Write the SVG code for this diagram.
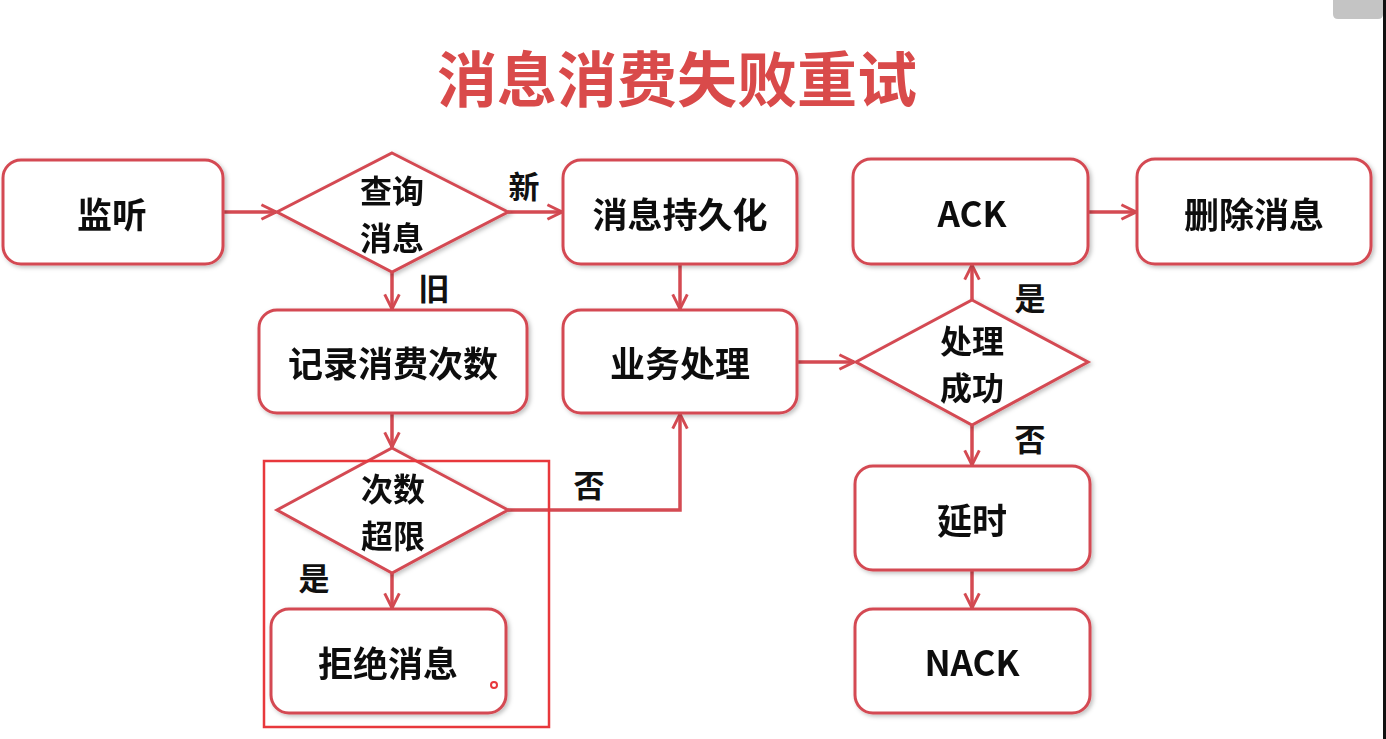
<svg xmlns="http://www.w3.org/2000/svg" width="1386" height="739" viewBox="0 0 1386 739">
<style>
.n{fill:#fff;stroke:#d44a52;stroke-width:3}
.t{font-family:"Noto Sans CJK SC","Liberation Sans",sans-serif;font-weight:bold;font-size:35px;fill:#111;text-anchor:middle;dominant-baseline:central}
.d{font-family:"Noto Sans CJK SC","Liberation Sans",sans-serif;font-weight:bold;font-size:32px;fill:#111;text-anchor:middle;dominant-baseline:central}
.l{font-family:"Noto Sans CJK SC","Liberation Sans",sans-serif;font-weight:bold;font-size:31px;fill:#111;text-anchor:middle;dominant-baseline:central}
.c{fill:none;stroke:#d44a52;stroke-width:3.5}
</style>
<defs>
<marker id="ah" viewBox="0 0 12 12" refX="11" refY="6" markerWidth="5" markerHeight="5" orient="auto" markerUnits="strokeWidth">
<path d="M1,1 L11,6 L1,11" fill="none" stroke="#d44a52" stroke-width="2"/>
</marker>
<filter id="sh" x="-10%" y="-10%" width="130%" height="130%"><feDropShadow dx="2" dy="2" stdDeviation="2" flood-color="#000" flood-opacity="0.25"/></filter>
</defs>
<rect width="1386" height="739" fill="#fff"/>
<path d="M1333,0 H1383 V14 Q1383,19 1378,19 H1338 Q1333,19 1333,14 Z" fill="#c4c4c4"/>
<rect x="1383" y="0" width="3" height="739" fill="#111"/>
<text x="677" y="75" font-family="Noto Sans CJK SC,sans-serif" font-weight="bold" font-size="60" fill="#d94a4a" text-anchor="middle" dominant-baseline="central">消息消费失败重试</text>

<g id="connectors">
<path class="c" marker-end="url(#ah)" d="M223,212 H276"/>
<path class="c" marker-end="url(#ah)" d="M508,212 H562"/>
<path class="c" marker-end="url(#ah)" d="M392,272 V309"/>
<path class="c" marker-end="url(#ah)" d="M680,264 V309"/>
<path class="c" marker-end="url(#ah)" d="M392,413 V447"/>
<path class="c" marker-end="url(#ah)" d="M508,510 H680 V414"/>
<path class="c" marker-end="url(#ah)" d="M392,573 V608"/>
<path class="c" marker-end="url(#ah)" d="M797,362 H854"/>
<path class="c" marker-end="url(#ah)" d="M972,300 V265"/>
<path class="c" marker-end="url(#ah)" d="M972,425 V465"/>
<path class="c" marker-end="url(#ah)" d="M972,570 V608"/>
<path class="c" marker-end="url(#ah)" d="M1088,212 H1136"/>
<text class="l" x="524" y="184">新</text>
<text class="l" x="434" y="286">旧</text>
<text class="l" x="589" y="483">否</text>
<text class="l" x="314" y="576">是</text>
<text class="l" x="1030" y="296">是</text>
<text class="l" x="1030" y="437">否</text>
</g>

<g id="listen" filter="url(#sh)"><rect class="n" x="3" y="160" width="220" height="104" rx="18"/><text class="t" x="112" y="212">监听</text></g>
<g id="query" filter="url(#sh)"><polygon class="n" points="392,153 508,212 392,272 277,212"/><text class="d" x="392" y="189">查询<tspan x="392" dy="47">消息</tspan></text></g>
<g id="persist" filter="url(#sh)"><rect class="n" x="563" y="160" width="234" height="104" rx="18"/><text class="t" x="680" y="212">消息持久化</text></g>
<g id="ack" filter="url(#sh)"><rect class="n" x="853" y="159" width="235" height="105" rx="18"/><text class="t" x="972" y="211" font-family="Liberation Sans,sans-serif">ACK</text></g>
<g id="delete" filter="url(#sh)"><rect class="n" x="1137" y="159" width="234" height="105" rx="18"/><text class="t" x="1254" y="212">删除消息</text></g>
<g id="record" filter="url(#sh)"><rect class="n" x="259" y="310" width="268" height="103" rx="18"/><text class="t" x="393" y="361">记录消费次数</text></g>
<g id="business" filter="url(#sh)"><rect class="n" x="563" y="310" width="234" height="103" rx="18"/><text class="t" x="680" y="361">业务处理</text></g>
<g id="success" filter="url(#sh)"><polygon class="n" points="972,300 1088,362 972,425 856,362"/><text class="d" x="972" y="339">处理<tspan x="972" dy="47">成功</tspan></text></g>
<g id="limit" filter="url(#sh)"><polygon class="n" points="392,448 508,510 392,573 277,510"/><text class="d" x="393" y="487">次数<tspan x="393" dy="47">超限</tspan></text></g>
<g id="reject" filter="url(#sh)"><rect class="n" x="271" y="609" width="235" height="104" rx="18"/><text class="t" x="388" y="661">拒绝消息</text></g>
<g id="delay" filter="url(#sh)"><rect class="n" x="855" y="466" width="235" height="104" rx="18"/><text class="t" x="972" y="518">延时</text></g>
<g id="nack" filter="url(#sh)"><rect class="n" x="855" y="609" width="235" height="104" rx="18"/><text class="t" x="972" y="660" font-family="Liberation Sans,sans-serif">NACK</text></g>

<rect x="264" y="461" width="285" height="266" fill="none" stroke="#e8383c" stroke-width="2.5"/>
<circle cx="494" cy="685" r="3" fill="none" stroke="#e8383c" stroke-width="2"/>
</svg>
